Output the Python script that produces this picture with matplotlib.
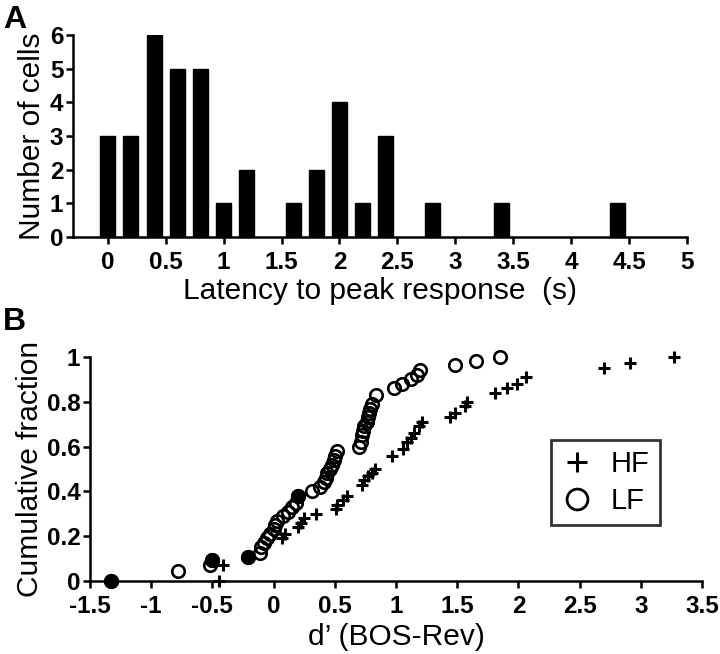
import matplotlib
matplotlib.use("Agg")
import matplotlib.pyplot as plt
from matplotlib.lines import Line2D

plt.rcParams['font.family'] = ['Liberation Sans', 'DejaVu Sans']

# ---------------- Panel A data ----------------
latency_bins = [0.0, 0.2, 0.4, 0.6, 0.8, 1.0, 1.2, 1.6, 1.8, 2.0, 2.2, 2.4, 2.8, 3.4, 4.4]
cell_counts = [3, 3, 6, 5, 5, 1, 2, 1, 2, 4, 1, 3, 1, 1, 1]
a_xticks = [0, 0.5, 1, 1.5, 2, 2.5, 3, 3.5, 4, 4.5, 5]
a_xticklabels = ['0', '0.5', '1', '1.5', '2', '2.5', '3', '3.5', '4', '4.5', '5']
a_yticks = [0, 1, 2, 3, 4, 5, 6]
a_yticklabels = ['0', '1', '2', '3', '4', '5', '6']

# ---------------- Panel B data ----------------
hf_x = [-0.45, -0.41, -0.21, 0.07, 0.09, 0.20, 0.22, 0.25, 0.35, 0.51, 0.52, 0.57, 0.60,
        0.72, 0.74, 0.77, 0.80, 0.83, 0.97, 1.06, 1.09, 1.12, 1.15, 1.19, 1.21,
        1.44, 1.48, 1.56, 1.58, 1.81, 1.91, 1.99, 2.06, 2.70, 2.91, 3.27]
hf_y = [0.00, 0.07, 0.11, 0.19, 0.21, 0.24, 0.26, 0.28, 0.30, 0.32, 0.34, 0.36, 0.38,
        0.43, 0.45, 0.47, 0.48, 0.50, 0.56, 0.59, 0.62, 0.64, 0.66, 0.69, 0.71,
        0.73, 0.75, 0.78, 0.80, 0.84, 0.86, 0.88, 0.91, 0.95, 0.975, 1.00]

lf_x = [-1.33, -0.78, -0.52, -0.50, -0.21, -0.11, -0.10, -0.08, -0.05, -0.03, 0.00, 0.01,
        0.03, 0.08, 0.12, 0.15, 0.18, 0.20, 0.31, 0.38, 0.41, 0.43, 0.44, 0.46, 0.48,
        0.49, 0.50, 0.52, 0.70, 0.71, 0.72, 0.73, 0.74, 0.76, 0.77, 0.78, 0.79, 0.80,
        0.84, 0.98, 1.05, 1.12, 1.17, 1.20, 1.48, 1.65, 1.85]
lf_y = [0.00, 0.045, 0.07, 0.095, 0.105, 0.125, 0.15, 0.17, 0.19, 0.21, 0.23, 0.25,
        0.27, 0.29, 0.31, 0.33, 0.35, 0.38, 0.40, 0.42, 0.44, 0.46, 0.48, 0.50, 0.52,
        0.54, 0.56, 0.58, 0.60, 0.62, 0.65, 0.67, 0.69, 0.71, 0.73, 0.75, 0.77, 0.79,
        0.83, 0.86, 0.88, 0.90, 0.92, 0.94, 0.965, 0.98, 1.00]
lf_filled_idx = [0, 3, 4, 17]

b_xticks = [-1.5, -1, -0.5, 0, 0.5, 1, 1.5, 2, 2.5, 3, 3.5]
b_xticklabels = ['-1.5', '-1', '-0.5', '0', '0.5', '1', '1.5', '2', '2.5', '3', '3.5']
b_yticks = [0, 0.2, 0.4, 0.6, 0.8, 1]
b_yticklabels = ['0', '0.2', '0.4', '0.6', '0.8', '1']

W, H = 720, 654
fig = plt.figure(figsize=(W / 100, H / 100), dpi=100)

TICK_FONT = dict(fontsize=17.5, fontweight='bold')
LABEL_SIZE = 21.5

def style_axes(ax):
    for s in ['top', 'right']:
        ax.spines[s].set_visible(False)
    for s in ['left', 'bottom']:
        ax.spines[s].set_linewidth(1.8)
    ax.tick_params(axis='both', direction='out', width=1.8, length=5)
    ax.tick_params(axis='x', pad=5)
    ax.tick_params(axis='y', pad=2)

# ---------------- Panel A ----------------
axA = fig.add_axes([73 / W, 1 - 237 / H, (687 - 73) / W, (237 - 35) / H])
axA.bar(latency_bins, cell_counts, width=0.13, color='black', edgecolor='black')
axA.set_xlim(-0.30, 5.0)
axA.set_ylim(0, 6)
axA.set_xticks(a_xticks)
axA.set_xticklabels(a_xticklabels, **TICK_FONT)
axA.set_yticks(a_yticks)
axA.set_yticklabels(a_yticklabels, **TICK_FONT)
style_axes(axA)
axA.set_xlabel('Latency to peak response  (s)', fontsize=LABEL_SIZE, labelpad=2)
axA.set_ylabel('Number of cells', fontsize=LABEL_SIZE, labelpad=3)

# ---------------- Panel B ----------------
axB = fig.add_axes([90 / W, 1 - 581 / H, (702 - 90) / W, (581 - 357) / H])
axB.plot(hf_x, hf_y, linestyle='none', marker='+', markersize=8, markeredgewidth=2.2,
         color='black', clip_on=False)
axB.plot(lf_x, lf_y, linestyle='none', marker='o', markersize=9, markeredgewidth=1.9,
         markerfacecolor='none', markeredgecolor='black', clip_on=False)
axB.plot([lf_x[i] for i in lf_filled_idx], [lf_y[i] for i in lf_filled_idx],
         linestyle='none', marker='o', markersize=9, markeredgewidth=1.9,
         markerfacecolor='black', markeredgecolor='black', clip_on=False)
axB.set_xlim(-1.5, 3.5)
axB.set_ylim(0, 1)
axB.set_xticks(b_xticks)
axB.set_xticklabels(b_xticklabels, **TICK_FONT)
axB.set_yticks(b_yticks)
axB.set_yticklabels(b_yticklabels, **TICK_FONT)
style_axes(axB)
axB.set_xlabel('d\u2019 (BOS-Rev)', fontsize=LABEL_SIZE, labelpad=4)
axB.set_ylabel('Cumulative fraction', fontsize=LABEL_SIZE, labelpad=2)

handles = [Line2D([], [], linestyle='none', marker='+', markersize=15, markeredgewidth=2.2,
                  color='black'),
           Line2D([], [], linestyle='none', marker='o', markersize=15, markeredgewidth=2.0,
                  markerfacecolor='none', markeredgecolor='black')]
leg = axB.legend(handles, ['HF', 'LF'], loc='lower left',
                 bbox_to_anchor=(551 / W, 1 - 525 / H), bbox_transform=fig.transFigure,
                 borderaxespad=0, fancybox=False, frameon=True, fontsize=21,
                 handlelength=1.1, handletextpad=0.6, labelspacing=0.3, borderpad=0.35)
leg.get_frame().set_edgecolor('black')
leg.get_frame().set_linewidth(2.0)

# Panel letters
fig.text(3 / W, 1 - 5 / H, 'A', fontsize=23, fontweight='bold', va='top', ha='left')
fig.text(3 / W, 1 - 307 / H, 'B', fontsize=23, fontweight='bold', va='top', ha='left')

fig.savefig('out.png', dpi=100)
